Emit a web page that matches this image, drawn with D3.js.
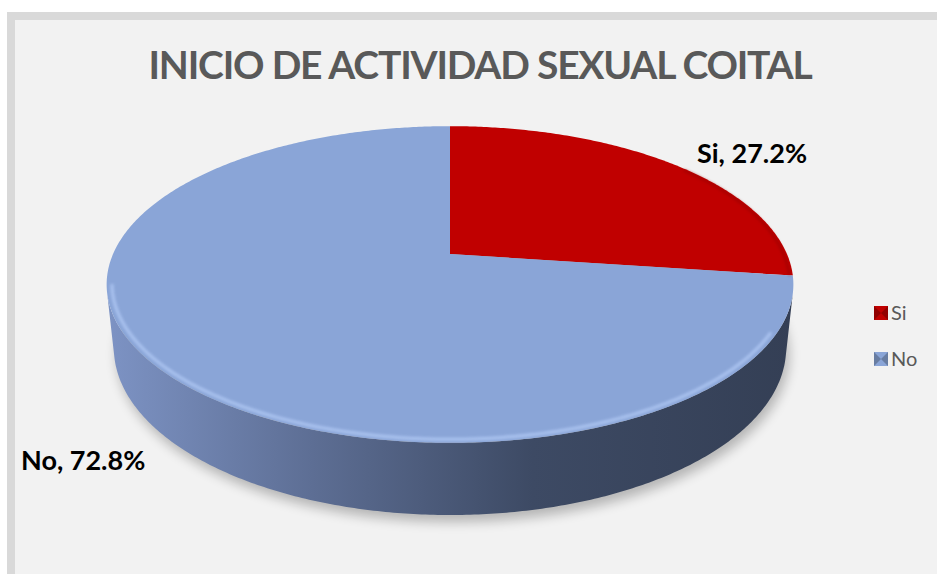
<!DOCTYPE html>
<html>
<head>
<meta charset="utf-8">
<script src="https://cdn.jsdelivr.net/npm/d3@7"></script>
<style>
    body { margin: 0; background: #fff; }
    svg { display: block; }
</style>
</head>
<body>
<svg id="chart" width="937" height="574"></svg>
<script>
    // data
    var categories = ["Si", "No"];
    var values = [27.2, 72.8];
    var colors = ["#c00000", "#8aa5d7"];
    var title = "INICIO DE ACTIVIDAD SEXUAL COITAL";

    var svg = d3.select("#chart"),
        width = 937,
        height = 574;

    // chart frame
    svg.append("rect").attr("x", 7).attr("y", 12).attr("width", width).attr("height", height).attr("fill", "#d9d9d9");
    svg.append("rect").attr("x", 15).attr("y", 20).attr("width", width).attr("height", height).attr("fill", "#f2f2f2");

    svg.append("text")
        .attr("x", 480)
        .attr("y", 79)
        .attr("text-anchor", "middle")
        .attr("font-family", "Lato, sans-serif")
        .attr("font-weight", "bold")
        .attr("font-size", 39)
        .attr("letter-spacing", -1.2)
        .attr("fill", "#595959")
        .text(title);

    var defs = svg.append("defs");

    // perspective camera for the tilted pie
    var cx = 450, vy = 254,
        tilt = 26.9 * Math.PI / 180,
        sa = Math.sin(tilt), ca = Math.cos(tilt),
        dist = 4.63, focal = 1560, depth = 0.212;

    function project(x, y, z) {
        var zc = dist + y * ca - z * sa,
            yc = y * sa + z * ca;
        return [cx + focal * x / zc, vy - focal * yc / zc];
    }
    function rim(theta, z, r) {
        r = r || 1;
        return project(r * Math.sin(theta), r * Math.cos(theta), z);
    }
    function arcPoints(a0, a1, z, r) {
        var n = Math.max(2, Math.ceil((a1 - a0) / 0.01));
        return d3.range(n + 1).map(function (i) { return rim(a0 + (a1 - a0) * i / n, z, r); });
    }

    var line = d3.line();
    var pie = d3.pie().sort(null).value(function (d) { return d; });
    var arcs = pie(values);

    // visible part of the wall
    var sil = Math.acos(-1 / (dist * ca)),
        wallA = sil, wallB = 2 * Math.PI - sil;

    // shadow under the pie
    var blur = defs.append("filter").attr("id", "shadow").attr("x", "-20%").attr("y", "-20%").attr("width", "140%").attr("height", "140%");
    blur.append("feGaussianBlur").attr("stdDeviation", 6);
    svg.append("path")
        .attr("d", line(arcPoints(0, 2 * Math.PI, -depth)) + "Z")
        .attr("transform", "translate(3,7)")
        .attr("fill", "#000")
        .attr("opacity", 0.25)
        .attr("filter", "url(#shadow)");

    // wall gradient, light on the left, dark on the right
    var grad = defs.append("linearGradient").attr("id", "wall")
        .attr("gradientUnits", "userSpaceOnUse")
        .attr("x1", rim(wallB, 0)[0]).attr("x2", rim(wallA, 0)[0])
        .attr("y1", 0).attr("y2", 0);
    [["0%", "#7d93c4"], ["30%", "#5d6e94"], ["62%", "#3d4a64"], ["100%", "#343f55"]].forEach(function (s) {
        grad.append("stop").attr("offset", s[0]).attr("stop-color", s[1]);
    });

    arcs.forEach(function (a, i) {
        var a0 = Math.max(a.startAngle, wallA), a1 = Math.min(a.endAngle, wallB);
        if (a1 <= a0) return;
        var pts = arcPoints(a0, a1, 0).concat(arcPoints(a0, a1, -depth).reverse());
        svg.append("path")
            .attr("d", line(pts) + "Z")
            .attr("fill", i === 1 ? "url(#wall)" : d3.color(colors[i]).darker(1));
    });

    // top faces
    var center = project(0, 0, 0);
    arcs.forEach(function (a, i) {
        var pts = [center].concat(arcPoints(a.startAngle, a.endAngle, 0));
        svg.append("path")
            .attr("d", line(pts) + "Z")
            .attr("fill", colors[i]);
    });

    // bevel highlight along the front edge
    var soft = defs.append("filter").attr("id", "soft");
    soft.append("feGaussianBlur").attr("stdDeviation", 1.6);
    svg.append("path")
        .attr("d", line(arcPoints(wallA + 0.25, wallB + 0.05, 0, 0.985)))
        .attr("fill", "none")
        .attr("stroke", "#b3cbf6")
        .attr("stroke-width", 3)
        .attr("opacity", 0.85)
        .attr("filter", "url(#soft)");
    svg.append("path")
        .attr("d", line(arcPoints(arcs[0].startAngle + 0.9, arcs[0].endAngle, 0, 0.99)))
        .attr("fill", "none")
        .attr("stroke", "#8a0000")
        .attr("stroke-width", 2)
        .attr("opacity", 0.6)
        .attr("filter", "url(#soft)");

    // data labels
    var labels = [[697, 163], [21, 470]];
    arcs.forEach(function (a, i) {
        svg.append("text")
            .attr("x", labels[i][0])
            .attr("y", labels[i][1])
            .attr("font-family", "Lato, sans-serif")
            .attr("font-weight", "bold")
            .attr("font-size", 27)
            .attr("fill", "#000")
            .text(categories[i] + ", " + d3.format(".1f")(a.value) + "%");
    });

    // legend
    var legend = svg.append("g").attr("transform", "translate(874,306)");
    categories.forEach(function (c, i) {
        var g = legend.append("g").attr("transform", "translate(0," + (i * 46) + ")");
        g.append("rect").attr("width", 14).attr("height", 14).attr("fill", colors[i]);
        g.append("path").attr("d", "M0,0L7,7L0,14Z M14,0L7,7L14,14Z")
            .attr("fill", d3.color(colors[i]).darker(1.2)).attr("opacity", 0.7);
        g.append("text")
            .attr("x", 17)
            .attr("y", 14)
            .attr("font-family", "Lato, sans-serif")
            .attr("font-size", 20)
            .attr("fill", "#595959")
            .text(c);
    });
</script>
</body>
</html>
